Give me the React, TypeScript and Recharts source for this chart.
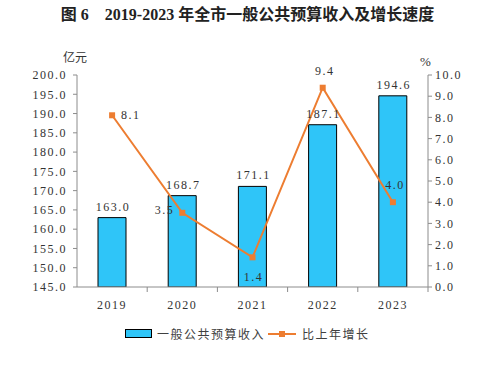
import React from 'react';
import { ComposedChart, Bar, Line, XAxis, YAxis, LabelList } from 'recharts';

const years = ['2019', '2020', '2021', '2022', '2023'];
const revenue = [163.0, 168.7, 171.1, 187.1, 194.6];
const growth = [8.1, 3.5, 1.4, 9.4, 4.0];
const growthLabelPos = ['right', 'left', 'bottom', 'top', 'top'];
const leftTicks = [145, 150, 155, 160, 165, 170, 175, 180, 185, 190, 195, 200];
const rightTicks = [0, 1, 2, 3, 4, 5, 6, 7, 8, 9, 10];

const data = years.map((y, i) => ({ year: y, revenue: revenue[i], growth: growth[i] }));

const FONT = '"Liberation Serif", "Noto Sans CJK SC", serif';
const CJK = '"Noto Sans CJK SC", sans-serif';
const BLUE = '#2FC5F8';
const ORANGE = '#ED7D31';
const TXT = '#333333';
const AXIS = '#8c8c8c';
const BAND = 70.2;

const XTick = (props: any) => {
  const { x, y, payload } = props;
  return (
    <g>
      <line x1={x + BAND / 2} x2={x + BAND / 2} y1={287} y2={292} stroke={AXIS} strokeWidth={1} />
      <text x={x} y={y + 14} textAnchor="middle" fontFamily={FONT} fontSize={12} letterSpacing={1.5} fill={TXT}>
        {payload.value}
      </text>
    </g>
  );
};

const Square = (props: any) => {
  const { cx, cy } = props;
  if (cx == null || cy == null) return null;
  return <rect x={cx - 3} y={cy - 3} width={6} height={6} fill={ORANGE} />;
};

const GrowthLabel = (props: any) => {
  const { x, y, value, index } = props;
  const pos = growthLabelPos[index];
  let tx = x, ty = y, anchor: any = 'middle';
  if (pos === 'right') { tx = x + 9; ty = y + 4; anchor = 'start'; }
  else if (pos === 'left') { tx = x - 8; ty = y + 1; anchor = 'end'; }
  else if (pos === 'bottom') { tx = x + 1; ty = y + 24; }
  else { tx = x + 2; ty = y - 13; }
  return (
    <text x={tx} y={ty} textAnchor={anchor} fontFamily={FONT} fontSize={12} letterSpacing={1.5} fill={TXT}>
      {Number(value).toFixed(1)}
    </text>
  );
};

const BarLabel = (props: any) => {
  const { x, y, width, value } = props;
  return (
    <text x={x + width / 2 + 1} y={y - 7} textAnchor="middle" fontFamily={FONT} fontSize={12} letterSpacing={1.5} fill={TXT}>
      {Number(value).toFixed(1)}
    </text>
  );
};

export default function App() {
  return (
    <div style={{ position: 'absolute', left: 0, top: 0, width: 495, height: 374, background: '#fff' }}>
      <div style={{ position: 'absolute', left: 0, top: 1, width: 495, textAlign: 'center', fontFamily: FONT, fontWeight: 'bold', fontSize: 16, color: '#222', whiteSpace: 'pre' }}>
        {'图 6　2019-2023 年全市一般公共预算收入及增长速度'}
      </div>
      <div style={{ position: 'absolute', left: 63, top: 48, fontFamily: CJK, fontSize: 12, color: TXT }}>亿元</div>
      <div style={{ position: 'absolute', left: 420, top: 54, fontFamily: FONT, fontSize: 13, color: TXT }}>%</div>
      <ComposedChart width={495} height={374} data={data} margin={{ top: 75, right: 7, left: 17, bottom: 57 }}>
        <XAxis dataKey="year" height={30} tickLine={false} axisLine={{ stroke: AXIS }} tick={<XTick />} interval={0} />
        <YAxis yAxisId="left" width={60} domain={[145, 200]} ticks={leftTicks} interval={0}
          tickFormatter={(v: number) => v.toFixed(1)} axisLine={{ stroke: AXIS }} tickLine={{ stroke: AXIS }} tickSize={4} tickMargin={6}
          tick={{ fontFamily: FONT, fontSize: 12, fill: TXT, letterSpacing: 1.5 }} allowDataOverflow />
        <YAxis yAxisId="right" orientation="right" width={60} domain={[0, 10]} ticks={rightTicks} interval={0}
          tickFormatter={(v: number) => v.toFixed(1)} axisLine={{ stroke: AXIS }} tickLine={{ stroke: AXIS }} tickSize={4} tickMargin={3}
          tick={{ fontFamily: FONT, fontSize: 12, fill: TXT, letterSpacing: 1.5 }} />
        <Bar yAxisId="left" dataKey="revenue" fill={BLUE} stroke="#000" strokeWidth={1} barSize={28} isAnimationActive={false}>
          <LabelList dataKey="revenue" content={<BarLabel />} />
        </Bar>
        <Line yAxisId="right" dataKey="growth" stroke={ORANGE} strokeWidth={2} dot={<Square />} activeDot={false} isAnimationActive={false}>
          <LabelList dataKey="growth" content={<GrowthLabel />} />
        </Line>
      </ComposedChart>
      <div style={{ position: 'absolute', top: 325, left: 125, display: 'flex', alignItems: 'center', fontFamily: CJK, fontSize: 12, color: '#404040', letterSpacing: 1.5 }}>
        <span style={{ display: 'inline-block', width: 25, height: 7, background: BLUE, border: '1px solid #000' }} />
        <span style={{ marginLeft: 5 }}>一般公共预算收入</span>
        <span style={{ position: 'relative', display: 'inline-block', width: 28, height: 2, background: ORANGE, marginLeft: 3 }}>
          <span style={{ position: 'absolute', left: 11, top: -2, width: 6, height: 6, background: ORANGE }} />
        </span>
        <span style={{ marginLeft: 6 }}>比上年增长</span>
      </div>
    </div>
  );
}
